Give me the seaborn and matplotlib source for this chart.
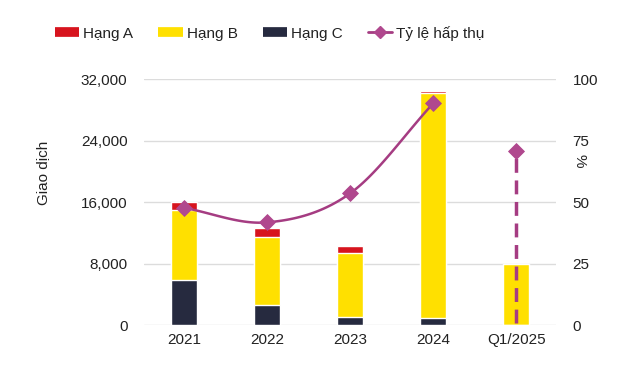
import numpy as np
import pandas as pd
import matplotlib
matplotlib.use("Agg")
import matplotlib.pyplot as plt
import seaborn as sns
from matplotlib.lines import Line2D

categories = ["2021", "2022", "2023", "2024", "Q1/2025"]
hang_a = [1100, 1200, 950, 250, 0]
hang_b = [9100, 8900, 8350, 29400, 7950]
hang_c = [5850, 2600, 1000, 870, 0]
ty_le = [47.7, 41.8, 53.6, 90.2]          # 2021-2024, smoothed solid line
ty_le_q1 = [1, 70.9]                       # Q1/2025 dashed segment
left_ticks = [0, 8000, 16000, 24000, 32000]
right_ticks = [0, 25, 50, 75, 100]

sns.set_theme(style="white")
plt.rcParams['font.family'] = ['Liberation Sans', 'DejaVu Sans']

c_a, c_b, c_c = "#D7141E", "#FFE000", "#262A3F"
c_line, c_mark = "#A53C82", "#B0488E"
txt = "#222222"

df = pd.DataFrame({"cat": categories, "A": hang_a, "B": hang_b, "C": hang_c})
df["BC"] = df["B"] + df["C"]
df["ABC"] = df["A"] + df["BC"]

fig = plt.figure(figsize=(6.24, 3.78), dpi=100)
ax = fig.add_axes([0.231, 0.140, 0.660, 0.650])

w = 0.31
sns.barplot(data=df, x="cat", y="ABC", color=c_a, width=w, ax=ax, saturation=1, zorder=2)
sns.barplot(data=df, x="cat", y="BC", color=c_b, width=w, ax=ax, saturation=1, zorder=3)
sns.barplot(data=df, x="cat", y="C", color=c_c, width=w, ax=ax, saturation=1, zorder=4)

ax.set_xlim(-0.48, 4.48)
ax.set_ylim(0, 32000)
ax.set_yticks(left_ticks)
ax.set_yticklabels([f"{v:,}" for v in left_ticks])
ax.grid(axis="y", color="#DCDCDC", lw=1.0, zorder=0)
ax.set_axisbelow(True)
for s in ax.spines.values():
    s.set_visible(False)
ax.tick_params(axis="both", length=0, labelsize=11, colors=txt)
ax.tick_params(axis="y", pad=12)
ax.tick_params(axis="x", pad=6)
ax.set_xlabel("")
ax.set_ylabel("Giao dịch", fontsize=11, color=txt)
ax.yaxis.set_label_coords(-0.228, 0.62)

ax2 = ax.twinx()
ax2.set_ylim(0, 100)
ax2.set_yticks(right_ticks)
for s in ax2.spines.values():
    s.set_visible(False)
ax2.tick_params(axis="y", length=0, labelsize=11, colors=txt, pad=12)
ax2.set_ylabel("%", fontsize=11, color=txt, rotation=270, labelpad=0)
ax2.yaxis.set_label_coords(1.075, 0.67)

# Catmull-Rom smoothing of the line (rendering only)
xs = np.arange(len(ty_le), dtype=float)
ys = np.array(ty_le, dtype=float)
px = np.concatenate([[2 * xs[0] - xs[1]], xs, [2 * xs[-1] - xs[-2]]])
py = np.concatenate([[2 * ys[0] - ys[1]], ys, [2 * ys[-1] - ys[-2]]])
sx, sy = [], []
t = np.linspace(0, 1, 40)
for i in range(1, len(px) - 2):
    p0, p1, p2, p3 = [np.array([px[j], py[j]]) for j in (i - 1, i, i + 1, i + 2)]
    for tt in t:
        pt = 0.5 * ((2 * p1) + (-p0 + p2) * tt + (2 * p0 - 5 * p1 + 4 * p2 - p3) * tt ** 2
                    + (-p0 + 3 * p1 - 3 * p2 + p3) * tt ** 3)
        sx.append(pt[0]); sy.append(pt[1])
ax2.plot(sx, sy, color=c_line, lw=1.8, zorder=5)
sns.scatterplot(x=xs, y=ys, marker="D", s=65, color=c_mark, edgecolor=c_mark, ax=ax2, zorder=6)

ax2.plot([4, 4], ty_le_q1, color=c_line, lw=2.5, ls=(0, (4, 2.2)), zorder=5)
sns.scatterplot(x=[4], y=[ty_le_q1[1]], marker="D", s=65, color=c_mark, edgecolor=c_mark, ax=ax2, zorder=6)
ax2.set_xlim(-0.48, 4.48)

handles = [
    Line2D([0], [0], color=c_a, lw=7, solid_capstyle="butt"),
    Line2D([0], [0], color=c_b, lw=7, solid_capstyle="butt"),
    Line2D([0], [0], color=c_c, lw=7, solid_capstyle="butt"),
    Line2D([0], [0], color=c_line, lw=2, marker="D", markersize=6.5, markerfacecolor=c_mark, markeredgecolor=c_mark),
]
labels = ["Hạng A", "Hạng B", "Hạng C", "Tỷ lệ hấp thụ"]
fig.legend(handles, labels, loc="center left", bbox_to_anchor=(0.066, 0.912), ncol=4, frameon=False,
           fontsize=11, handlelength=1.6, handletextpad=0.25, columnspacing=1.65, labelcolor=txt)

fig.savefig("out.png", dpi=100, facecolor="white")
